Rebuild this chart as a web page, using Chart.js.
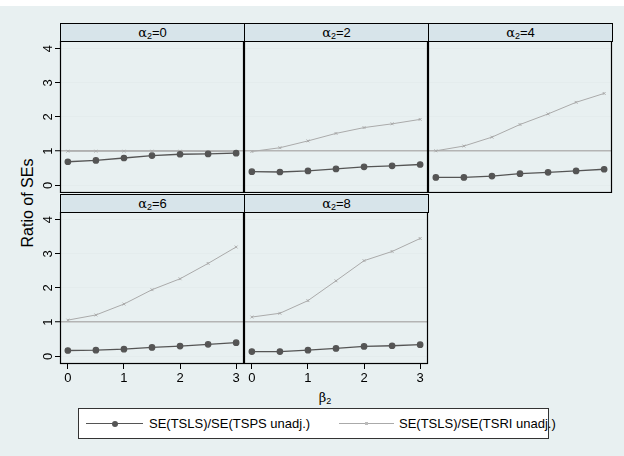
<!DOCTYPE html>
<html>
<head>
<meta charset="utf-8">
<script src="https://cdn.jsdelivr.net/npm/chart.js@4/dist/chart.umd.min.js"></script>
<style>
  body { margin: 0; background: #fff; font-family: "Liberation Sans", Arial, sans-serif; }
  #page { position: absolute; left: 0; top: 6px; width: 624px; height: 450px; background: #e8f0f1; }
  .strip { position: absolute; box-sizing: border-box; height: 19px; background: #d7e4ea;
           border: 1px solid #000; text-align: center; font-size: 13px; line-height: 17px; color: #000; }
  .greek { font-family: "DejaVu Serif", serif; font-size: 13px; }
  sub { font-size: 9px; vertical-align: -2px; line-height: 0; }
  canvas { position: absolute; }
  #ytitle { position: absolute; left: 28px; top: 203px; transform: translate(-50%, -50%) rotate(-90deg);
            font-size: 16px; white-space: nowrap; }
  #xtitle { position: absolute; left: 325px; top: 396px; transform: translate(-50%, -50%); font-size: 15px; }
  #legend { position: absolute; left: 78px; top: 408px; width: 471px; height: 31px; box-sizing: border-box;
            background: #fff; border: 1px solid #333; font-size: 13px; }
  .lline { position: absolute; height: 0; }
  .ltext { position: absolute; top: 7px; white-space: nowrap; }
</style>
</head>
<body>
<div id="page"></div>
<div id="ytitle">Ratio of SEs</div>
<div id="xtitle"><span class="greek">β</span><sub>2</sub></div>
<div id="legend">
  <div class="lline" style="left:7px; top:14px; width:57px; border-top:1.3px solid #555;"></div>
  <div style="position:absolute; left:33px; top:12px; width:6px; height:6px; border-radius:50%; background:#555;"></div>
  <div class="ltext" style="left:70px;">SE(TSLS)/SE(TSPS unadj.)</div>
  <div class="lline" style="left:260px; top:14px; width:55px; border-top:1px solid #aaa;"></div>
  <div style="position:absolute; left:286px; top:13px; width:3px; height:3px; background:#bbb;"></div>
  <div class="ltext" style="left:320px;">SE(TSLS)/SE(TSRI unadj.)</div>
</div>

<script>
// beta_2 values on the x axis, one panel per alpha_2
const betaValues = [0, 0.5, 1, 1.5, 2, 2.5, 3];
const alphaValues = [0, 2, 4, 6, 8];
const xTicks = [0, 1, 2, 3];
const yTicks = [0, 1, 2, 3, 4];

// SE(TSLS)/SE(TSPS unadj.)
const tspsA0 = [0.69, 0.73, 0.80, 0.87, 0.91, 0.92, 0.94];
const tspsA2 = [0.40, 0.39, 0.42, 0.48, 0.54, 0.57, 0.61];
const tspsA4 = [0.23, 0.23, 0.27, 0.34, 0.38, 0.42, 0.47];
const tspsA6 = [0.17, 0.18, 0.21, 0.26, 0.30, 0.35, 0.40];
const tspsA8 = [0.14, 0.14, 0.18, 0.23, 0.29, 0.31, 0.34];

// SE(TSLS)/SE(TSRI unadj.)
const tsriA0 = [1.00, 1.00, 1.00, 1.00, 1.00, 0.99, 0.98];
const tsriA2 = [0.99, 1.10, 1.30, 1.52, 1.69, 1.80, 1.93];
const tsriA4 = [1.01, 1.15, 1.41, 1.78, 2.09, 2.43, 2.69];
const tsriA6 = [1.06, 1.21, 1.53, 1.95, 2.27, 2.72, 3.20];
const tsriA8 = [1.15, 1.26, 1.63, 2.21, 2.80, 3.07, 3.45];

const tspsSeries = [tspsA0, tspsA2, tspsA4, tspsA6, tspsA8];
const tsriSeries = [tsriA0, tsriA2, tsriA4, tsriA6, tsriA8];

// panel grid geometry
const colX = [60, 244, 428];
const rowTop = [23, 194];
const panelW = 184;
const stripH = 19;
const plotH = 152;
const yAxisW = 30;
const xAxisH = 26;

// black frame around each plot region
const framePlugin = {
  id: 'frame',
  afterDraw(chart) {
    const a = chart.chartArea;
    const c = chart.ctx;
    c.save();
    c.strokeStyle = '#000';
    c.lineWidth = 1.2;
    c.strokeRect(a.left + 0.5, a.top, a.right - a.left - 1, a.bottom - a.top - 0.5);
    c.restore();
  }
};

// keep tick labels from shrinking the plot area
function noScalePadding(s) {
  s.paddingTop = 0;
  s.paddingBottom = 0;
  s.paddingLeft = 0;
  s.paddingRight = 0;
}

const tickFont = { family: '"Liberation Sans", Arial, sans-serif', size: 13 };

alphaValues.forEach((alpha, i) => {
  const col = i % 3;
  const row = Math.floor(i / 3);
  const leftCol = col === 0;
  const showX = row === 1;

  const strip = document.createElement('div');
  strip.className = 'strip';
  strip.style.left = colX[col] + 'px';
  strip.style.top = rowTop[row] + 'px';
  strip.style.width = (panelW + 1) + 'px';
  strip.innerHTML = '<span class="greek">α</span><sub>2</sub>=' + alpha;
  document.body.appendChild(strip);

  const axW = leftCol ? yAxisW : 0;
  const axH = showX ? xAxisH : 0;
  const canvas = document.createElement('canvas');
  canvas.width = panelW + axW + 1;
  canvas.height = plotH + axH;
  canvas.style.left = (colX[col] - axW) + 'px';
  canvas.style.top = (rowTop[row] + stripH - 1) + 'px';
  document.body.appendChild(canvas);

  new Chart(canvas, {
    type: 'line',
    data: {
      datasets: [
        {
          label: 'SE(TSLS)/SE(TSPS unadj.)',
          data: betaValues.map((b, k) => ({ x: b, y: tspsSeries[i][k] })),
          borderColor: '#555',
          backgroundColor: '#555',
          borderWidth: 1.3,
          pointRadius: 2.7,
          pointStyle: 'circle',
          tension: 0
        },
        {
          label: 'SE(TSLS)/SE(TSRI unadj.)',
          data: betaValues.map((b, k) => ({ x: b, y: tsriSeries[i][k] })),
          borderColor: '#aaa',
          backgroundColor: '#aaa',
          borderWidth: 1,
          pointRadius: 2,
          pointBorderWidth: 1,
          pointStyle: 'crossRot',
          tension: 0
        }
      ]
    },
    options: {
      responsive: false,
      animation: false,
      devicePixelRatio: 1,
      layout: { autoPadding: false, padding: { left: 0, right: 1, top: 0, bottom: 0 } },
      plugins: { legend: { display: false }, tooltip: { enabled: false } },
      scales: {
        x: {
          type: 'linear',
          min: -0.14,
          max: 3.14,
          afterBuildTicks: s => { s.ticks = xTicks.map(v => ({ value: v })); },
          afterFit: s => { s.height = axH; noScalePadding(s); },
          border: { display: false },
          grid: { drawOnChartArea: false, drawTicks: showX, tickLength: 5, tickColor: '#000', tickWidth: 1 },
          ticks: { display: showX, font: tickFont, color: '#000', padding: 2, maxRotation: 0 }
        },
        y: {
          type: 'linear',
          min: -0.225,
          max: 4.225,
          afterBuildTicks: s => { s.ticks = yTicks.map(v => ({ value: v })); },
          afterFit: s => { s.width = axW; noScalePadding(s); },
          border: { display: false },
          grid: {
            drawTicks: leftCol,
            tickLength: 5,
            tickColor: '#000',
            tickWidth: 1,
            color: ctx => ctx.tick && ctx.tick.value === 1 ? '#b4b4b4' : '#e4eced',
            lineWidth: ctx => ctx.tick && ctx.tick.value === 1 ? 1.5 : 1
          },
          ticks: {
            display: leftCol,
            font: tickFont,
            color: '#000',
            padding: 3,
            minRotation: 90,
            maxRotation: 90,
            crossAlign: 'center'
          }
        }
      }
    },
    plugins: [framePlugin]
  });
});
</script>
</body>
</html>
